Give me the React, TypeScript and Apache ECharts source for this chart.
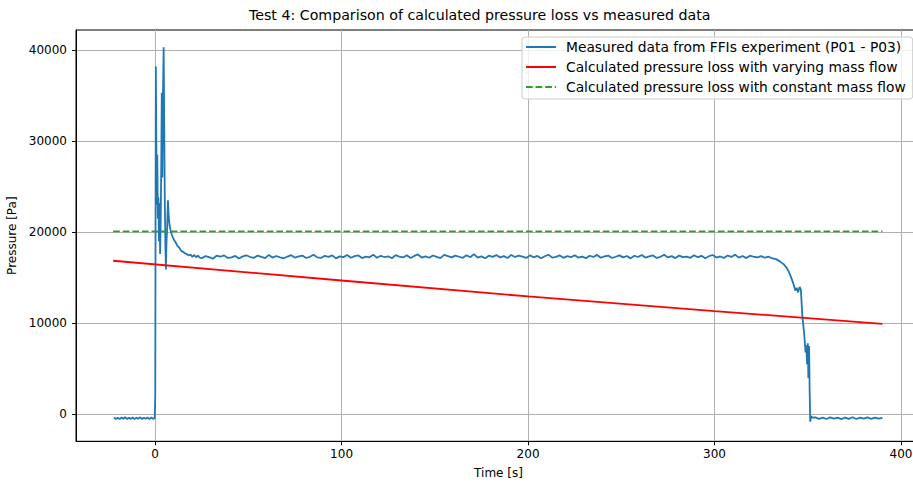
import React, { useEffect, useRef } from "react";
import * as echarts from "echarts";

const titleText = "Test 4: Comparison of calculated pressure loss vs measured data";
const xTicks = [0, 100, 200, 300, 400];
const yTicks = [0, 10000, 20000, 30000, 40000];

const seriesNames = [
  "Measured data from FFIs experiment (P01 - P03)",
  "Calculated pressure loss with varying mass flow",
  "Calculated pressure loss with constant mass flow",
];

const measuredTime = [
  -22, -21, -20, -19, -18, -17, -16, -15, -14, -13, -12, -11, -10, -9, -8, -7, -6, -5, -4, -3, -2, -1, -0.2,
  0.1, 0.4, 0.7, 0.9, 1.2, 1.5, 1.8, 2.1, 2.4, 2.7, 3.0, 3.3, 3.6, 3.9, 4.2, 4.6, 4.9, 5.2, 5.5, 5.8, 6.1, 6.5, 6.9, 7.3, 7.7, 8.2,
  9, 10, 11, 12, 13, 14, 15, 16, 17, 18, 19, 20, 21, 22, 23, 24,
  25, 27, 29, 31, 33, 35, 37, 39, 41, 43,
  45, 47, 49, 51, 53, 55, 57, 59, 61, 63,
  65, 67, 69, 71, 73, 75, 77, 79, 81, 83,
  85, 87, 89, 91, 93, 95, 97, 99, 101, 103,
  105, 107, 109, 111, 113, 115, 117, 119, 121, 123,
  125, 127, 129, 131, 133, 135, 137, 139, 141, 143,
  145, 147, 149, 151, 153, 155, 157, 159, 161, 163,
  165, 167, 169, 171, 173, 175, 177, 179, 181, 183,
  185, 187, 189, 191, 193, 195, 197, 199, 201, 203,
  205, 207, 209, 211, 213, 215, 217, 219, 221, 223,
  225, 227, 229, 231, 233, 235, 237, 239, 241, 243,
  245, 247, 249, 251, 253, 255, 257, 259, 261, 263,
  265, 267, 269, 271, 273, 275, 277, 279, 281, 283,
  285, 287, 289, 291, 293, 295, 297, 299, 301, 303,
  305, 307, 309, 311, 313, 315, 317, 319, 321, 323,
  325, 327, 329, 331,
  333, 335, 337, 338.5, 340, 341.5, 342.5, 343.3, 344, 344.8, 345.6, 346.3, 347, 347.6, 348.2, 348.8,
  349.2, 349.6, 350, 350.3, 350.7, 351, 351.3, 351.8, 352.5,
  354, 356, 358, 360, 362, 364, 366, 368, 370, 372, 374, 376, 378, 380, 382, 384, 386, 388, 390,
];

const measuredPressure = [
  -330, -500, -360, -520, -340, -480, -310, -510, -370, -490, -330, -520, -350, -470, -320, -500, -360, -480, -340, -510, -330, -490, -400,
  2000, 38200, 29000, 23000, 28500, 21500, 23800, 19000, 23200, 17600, 21000, 27000, 35300, 26000, 34500, 40300, 32000, 24000, 19000, 15900, 18800, 20600, 23500, 21800, 20900, 20300,
  19700, 19200, 18900, 18500, 18300, 17950, 17850, 17700, 17600, 17450, 17550, 17300, 17500, 17250, 17450, 17200,
  17150, 17380, 17260, 17090, 17420, 17310, 17460, 17180, 17240, 17400,
  17120, 17350, 17470, 17280, 17190, 17430, 17300, 17160, 17510, 17220,
  17390, 17250, 17140, 17330, 17480, 17210, 17360, 17440, 17170, 17300,
  17520, 17240, 17180, 17410, 17290, 17460, 17130, 17350, 17270, 17500,
  17200, 17380, 17450, 17160, 17320, 17250, 17540, 17190, 17410, 17280,
  17360, 17150, 17490, 17310, 17230, 17470, 17180, 17400, 17560, 17220,
  17340, 17200, 17450, 17290, 17160, 17520, 17380, 17240, 17430, 17310,
  17190, 17470, 17260, 17600, 17210, 17350, 17150, 17420, 17300, 17490,
  17230, 17380, 17170, 17510, 17280, 17440, 17320, 17180, 17460, 17250,
  17400, 17140, 17360, 17530, 17210, 17300, 17450, 17190, 17370, 17260,
  17480, 17220, 17330, 17150, 17420, 17290, 17510, 17200, 17350, 17440,
  17170, 17310, 17460, 17240, 17390, 17130, 17420, 17280, 17500, 17210,
  17360, 17450, 17180, 17300, 17520, 17230, 17380, 17160, 17440, 17270,
  17330, 17190, 17480, 17260, 17410, 17150, 17370, 17500, 17220, 17340,
  17180, 17450, 17290, 17540, 17210, 17390, 17160, 17430, 17310, 17250,
  17380, 17200, 17310, 17120,
  17050, 16800, 16500, 16150, 15600, 14800, 14200, 13600, 13900, 13400, 14000, 13700, 11000, 9800, 8500, 6800,
  7600, 5500, 7800, 4000, 7500, 2500, -800, -200, -350,
  -330, -480, -350, -500, -320, -470, -360, -510, -340, -480, -310, -500, -350, -470, -330, -490, -360, -460, -380,
];

const varyingTime = [-22.5, 100, 200, 300, 390];
const varyingPressure = [16870, 14700, 12950, 11350, 9950];

const constantTime = [-22.5, 390];
const constantPressure = [20100, 20100];

const FONT = "DejaVu Sans";

export default function App() {
  const ref = useRef<HTMLDivElement>(null);
  useEffect(() => {
    if (!ref.current) return;
    const chart = echarts.init(ref.current, undefined, { renderer: "svg" });
    const zip = (a: number[], b: number[]) => a.map((t, i) => [t, b[i]]);
    chart.setOption({
      animation: false,
      backgroundColor: "#ffffff",
      textStyle: { fontFamily: FONT },
      title: {
        text: titleText,
        left: 249,
        top: 8,
        padding: 0,
        textStyle: { fontFamily: FONT, fontSize: 14.2, fontWeight: "normal", color: "#000" },
      },
      legend: {
        orient: "vertical",
        left: 522,
        top: 37,
        padding: [3, 7, 5, 3],
        itemWidth: 30,
        itemHeight: 14,
        itemGap: 6,
        selectedMode: false,
        backgroundColor: "rgba(255,255,255,0.8)",
        borderColor: "#cccccc",
        borderWidth: 1,
        borderRadius: 3,
        itemStyle: { color: "transparent", borderColor: "transparent", borderWidth: 0, opacity: 0 },
        textStyle: { fontFamily: FONT, fontSize: 13.8, color: "#000", padding: [0, 0, 0, 5] },
        data: seriesNames,
      },
      grid: {
        left: 76,
        top: 30,
        width: 845,
        height: 411.3,
        show: true,
        containLabel: false,
        outerBoundsMode: "none",
        borderColor: "#000",
        borderWidth: 1,
        backgroundColor: "transparent",
      },
      xAxis: {
        type: "value",
        min: -42.4,
        max: 410.7,
        name: "Time [s]",
        nameLocation: "middle",
        nameGap: 26,
        nameTextStyle: { fontFamily: FONT, fontSize: 12, color: "#000" },
        axisLine: { show: true, onZero: false, lineStyle: { color: "#000", width: 1 } },
        axisTick: { show: true, length: 4, customValues: xTicks, lineStyle: { color: "#000" } },
        axisLabel: {
          customValues: xTicks,
          margin: 7,
          fontFamily: FONT,
          fontSize: 12,
          color: "#000",
          formatter: (v: number) => String(v),
        },
        splitLine: { show: true, lineStyle: { color: "#b0b0b0", width: 1 } },
      },
      yAxis: {
        type: "value",
        min: -2950,
        max: 42200,
        name: "Pressure [Pa]",
        nameLocation: "middle",
        nameGap: 55,
        nameTextStyle: { fontFamily: FONT, fontSize: 12, color: "#000" },
        axisLine: { show: true, onZero: false, lineStyle: { color: "#000", width: 1 } },
        axisTick: { show: true, length: 4, customValues: yTicks, lineStyle: { color: "#000" } },
        axisLabel: {
          customValues: yTicks,
          margin: 9,
          fontFamily: FONT,
          fontSize: 12,
          color: "#000",
          formatter: (v: number) => String(v),
        },
        splitLine: { show: true, lineStyle: { color: "#b0b0b0", width: 1 } },
      },
      series: [
        {
          name: seriesNames[0],
          type: "line",
          symbol: "none",
          data: zip(measuredTime, measuredPressure),
          lineStyle: { color: "#1f77b4", width: 1.8 },
          itemStyle: { color: "#1f77b4" },
          z: 3,
        },
        {
          name: seriesNames[1],
          type: "line",
          symbol: "none",
          data: zip(varyingTime, varyingPressure),
          lineStyle: { color: "#ff0000", width: 1.8 },
          itemStyle: { color: "#ff0000" },
          z: 4,
        },
        {
          name: seriesNames[2],
          type: "line",
          symbol: "none",
          data: zip(constantTime, constantPressure),
          lineStyle: { color: "#2ca02c", width: 1.8, type: [6.7, 2.9] },
          itemStyle: { color: "#2ca02c" },
          z: 5,
        },
      ],
    });
    return () => chart.dispose();
  }, []);
  return (
    <div
      ref={ref}
      style={{ position: "fixed", left: 0, top: 0, width: 913, height: 485, background: "#fff" }}
    />
  );
}
